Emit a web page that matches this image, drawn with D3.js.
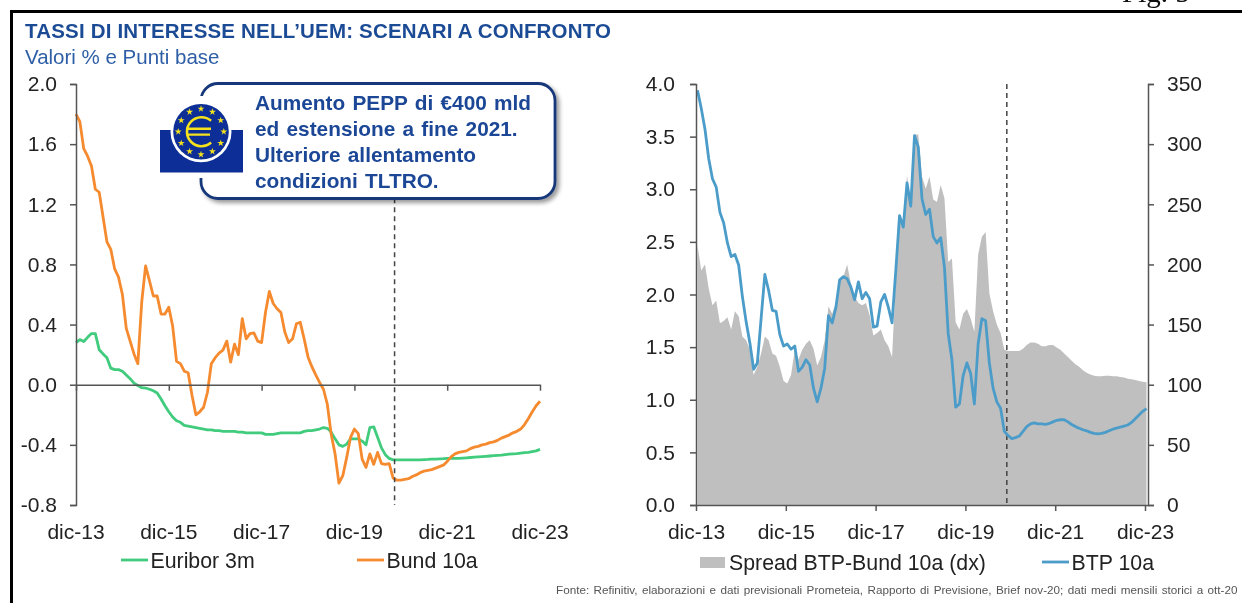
<!DOCTYPE html>
<html><head><meta charset="utf-8">
<script src="https://cdnjs.cloudflare.com/ajax/libs/d3/7.8.5/d3.min.js"></script>
<style>
html,body{margin:0;padding:0;background:#fff;overflow:hidden}
svg{display:block}
text{font-family:"Liberation Sans",Arial,sans-serif}
</style></head><body><svg id="c" width="1242" height="603"></svg>
<script>
const xTickMonths=[0,24,48,72,96,120];
const xTickLabels=["dic-13","dic-15","dic-17","dic-19","dic-21","dic-23"];
const leftTicks=[2.0,1.6,1.2,0.8,0.4,0.0,-0.4,-0.8];
const leftLabels=["2.0","1.6","1.2","0.8","0.4","0.0","-0.4","-0.8"];
const btpTicks=[4,3.5,3,2.5,2,1.5,1,0.5,0];
const btpLabels=["4.0","3.5","3.0","2.5","2.0","1.5","1.0","0.5","0.0"];
const spreadTicks=[350,300,250,200,150,100,50,0];
const forecastMonth=82;

const euribor=[0.28,0.30,0.287,0.315,0.34,0.34,0.233,0.205,0.18,0.11,0.10,0.10,0.09,0.065,0.04,0.01,-0.005,-0.02,-0.022,-0.03,
-0.04,-0.055,-0.095,-0.14,-0.18,-0.215,-0.24,-0.25,-0.27,-0.275,-0.28,-0.285,-0.29,-0.295,-0.30,-0.30,-0.305,-0.305,-0.31,-0.31,
-0.31,-0.31,-0.315,-0.315,-0.32,-0.32,-0.32,-0.32,-0.32,-0.33,-0.33,-0.33,-0.325,-0.32,-0.32,-0.32,-0.32,-0.32,-0.32,-0.31,
-0.305,-0.305,-0.30,-0.295,-0.285,-0.29,-0.315,-0.36,-0.40,-0.41,-0.395,-0.36,-0.36,-0.36,-0.375,-0.40,-0.285,-0.28,-0.35,-0.42,
-0.465,-0.49,-0.50,-0.50,-0.50,-0.50,-0.50,-0.50,-0.50,-0.50,-0.498,-0.497,-0.495,-0.495,-0.493,-0.492,-0.49,-0.49,-0.49,-0.49,
-0.488,-0.486,-0.484,-0.482,-0.48,-0.478,-0.476,-0.474,-0.472,-0.47,-0.468,-0.465,-0.462,-0.46,-0.458,-0.455,-0.452,-0.45,-0.445,-0.44,-0.43];

const bund=[1.80,1.75,1.57,1.52,1.455,1.30,1.28,1.115,0.95,0.90,0.77,0.715,0.60,0.375,0.29,0.205,0.14,0.55,0.79,0.69,
0.59,0.59,0.47,0.47,0.515,0.39,0.155,0.14,0.09,0.08,-0.07,-0.20,-0.18,-0.15,-0.05,0.14,0.18,0.21,0.23,0.29,
0.15,0.27,0.20,0.44,0.305,0.34,0.345,0.29,0.28,0.48,0.62,0.54,0.505,0.48,0.35,0.28,0.305,0.405,0.415,0.305,
0.185,0.12,0.065,0.015,-0.03,-0.13,-0.33,-0.46,-0.655,-0.605,-0.485,-0.35,-0.295,-0.325,-0.495,-0.55,-0.46,-0.53,-0.45,-0.525,
-0.53,-0.525,-0.62,-0.635,-0.635,-0.63,-0.625,-0.61,-0.60,-0.585,-0.575,-0.57,-0.565,-0.555,-0.545,-0.535,-0.51,-0.48,-0.46,-0.45,
-0.445,-0.44,-0.425,-0.415,-0.41,-0.40,-0.395,-0.385,-0.38,-0.37,-0.355,-0.345,-0.335,-0.32,-0.31,-0.295,-0.265,-0.225,-0.18,-0.14,-0.11];

const btp=[3.94,3.77,3.57,3.29,3.10,3.02,2.78,2.68,2.49,2.36,2.38,2.28,1.98,1.74,1.54,1.29,1.35,1.77,2.19,2.04,
1.85,1.84,1.62,1.51,1.53,1.48,1.51,1.27,1.31,1.38,1.33,1.11,0.98,1.11,1.30,1.80,1.73,1.88,2.14,2.17,
2.15,2.07,1.95,2.12,1.96,2.02,1.96,1.69,1.70,1.93,2.00,1.88,1.73,2.23,2.75,2.64,3.06,2.84,3.51,3.40,
2.91,2.76,2.81,2.55,2.49,2.54,2.26,1.63,1.38,0.93,0.96,1.23,1.35,1.25,0.96,1.53,1.77,1.75,1.35,1.11,
0.98,0.92,0.70,0.66,0.63,0.64,0.655,0.70,0.745,0.77,0.78,0.77,0.77,0.765,0.775,0.79,0.805,0.81,0.81,0.79,
0.765,0.745,0.73,0.715,0.705,0.69,0.68,0.675,0.68,0.69,0.705,0.72,0.73,0.74,0.75,0.76,0.785,0.82,0.855,0.89,0.915];

const spread=[216,195,200,180,166,170,151,153,156,146,161,157,140,137,129,108,115,126,140,137,
126,124,115,103,101,108,129,121,129,134,137,130,116,123,137,165,159,168,187,190,
200,184,173,168,166,168,158,141,143,146,137,132,123,187,237,234,274,249,308,308,
273,263,273,254,252,266,255,202,205,152,146,159,163,155,144,208,223,227,176,161,
150,143,129,128,128,128,128,130,133,135,135,134,132,132,133,133,131,129,126,123,
120,117,115,112,110,108.5,107.5,107,107,107.5,107.5,107,107,106.5,106,105,104.5,104,103,102.5,102];

const legendLeft=["Euribor 3m","Bund 10a"];
const legendRight=["Spread BTP-Bund 10a (dx)","BTP 10a"];
const calloutLines=["Aumento PEPP di €400 mld","ed estensione a fine 2021.","Ulteriore allentamento","condizioni TLTRO."];
const titleText="TASSI DI INTERESSE NELL’UEM: SCENARI A CONFRONTO";
const subtitleText="Valori % e Punti base";
const sourceText="Fonte: Refinitiv, elaborazioni e dati previsionali Prometeia, Rapporto di Previsione, Brief nov-20; dati medi mensili storici a ott-20";
const figText="Fig. 5";

const C={green:"#3fcb7d",orange:"#f58a2f",blue:"#4b9cc9",gray:"#bfbfbf",axis:"#555",txt:"#222",title:"#1c4c96",sub:"#2e5ea6",navy:"#17397a",logo:"#0a2f96",yel:"#f5e11e"};
const svg=d3.select("#c");
const defs=svg.append("defs");
const f=defs.append("filter").attr("id","sh").attr("x","-5%").attr("y","-5%").attr("width","115%").attr("height","115%");
f.append("feDropShadow").attr("dx",3).attr("dy",3).attr("stdDeviation",2).attr("flood-color","#000").attr("flood-opacity",.4);
const soft=defs.append("filter").attr("id","soft");
soft.append("feGaussianBlur").attr("stdDeviation",.45);

const root=svg.append("g").attr("filter","url(#soft)");

// frame
root.append("path").attr("d","M11.5 603V11.5H1242").attr("fill","none").attr("stroke","#000").attr("stroke-width",3);
root.append("text").text(figText).attr("x",1122).attr("y",2).attr("font-size",29).attr("fill","#111").style("font-family","'Liberation Serif',serif");
root.append("text").text(titleText).attr("x",25).attr("y",38).attr("font-size",20.5).attr("font-weight","bold").attr("fill",C.title).attr("textLength",586).attr("lengthAdjust","spacing");
root.append("text").text(subtitleText).attr("x",25).attr("y",63.5).attr("font-size",20.5).attr("fill",C.sub);
root.append("text").text(sourceText).attr("x",556).attr("y",594).attr("font-size",11.7).attr("fill","#555").style("word-spacing","1.2px");

const tickFont=21, legendFont=21.3;
function styleAxis(g){
  g.selectAll(".domain").attr("stroke",C.axis).attr("stroke-width",1.5);
  g.selectAll(".tick line").attr("stroke",C.axis).attr("stroke-width",1.5);
  g.selectAll("text").attr("font-size",tickFont).attr("fill",C.txt).style("font-family","'Liberation Sans',Arial,sans-serif");
}
const yTop=84,bot=505;

// LEFT PANEL
const xL=d3.scaleLinear().domain([0,120]).range([76,540]);
const yL=d3.scaleLinear().domain([-0.8,2]).range([bot,yTop]);
const lineL=d3.line().x((d,i)=>xL(i)).y(d=>yL(d));
root.append("path").datum(euribor).attr("d",lineL).attr("fill","none").attr("stroke",C.green).attr("stroke-width",2.8).attr("stroke-linejoin","round");
root.append("path").datum(bund).attr("d",lineL).attr("fill","none").attr("stroke",C.orange).attr("stroke-width",2.8).attr("stroke-linejoin","round");
root.append("line").attr("x1",xL(forecastMonth)+1.5).attr("x2",xL(forecastMonth)+1.5).attr("y1",yL(1.24)).attr("y2",yL(-0.8)).attr("stroke","#444").attr("stroke-width",1.5).attr("stroke-dasharray","5 4");
root.append("g").attr("transform","translate(76,0)").call(d3.axisLeft(yL).tickValues(leftTicks).tickFormat((d,i)=>leftLabels[i]).tickSize(6).tickSizeOuter(6).tickPadding(13)).call(styleAxis);
const axL=root.append("g").attr("transform",`translate(0,${yL(0)})`).call(d3.axisBottom(xL).tickValues(xTickMonths).tickFormat("").tickSize(6).tickSizeOuter(0));
styleAxis(axL);
root.append("g").selectAll("text").data(xTickMonths).join("text").attr("x",d=>xL(d)).attr("y",bot+33.5).attr("text-anchor","middle").attr("font-size",tickFont).attr("fill",C.txt).text((d,i)=>xTickLabels[i]);

// RIGHT PANEL
const xR=d3.scaleLinear().domain([0,120]).range([696,1145]);
const off=0.4;
const yR=d3.scaleLinear().domain([0,4]).range([bot,yTop]);
const yS=d3.scaleLinear().domain([0,350]).range([bot,yTop]);
const area=d3.area().x((d,i)=>xR(i+off)).y0(yS(0)).y1(d=>yS(d));
root.append("path").datum(spread).attr("d",area).attr("fill",C.gray);
root.append("line").attr("x1",xR(forecastMonth)+4).attr("x2",xR(forecastMonth)+4).attr("y1",yTop).attr("y2",bot).attr("stroke","#444").attr("stroke-width",1.5).attr("stroke-dasharray","5 4");
root.append("path").datum(btp).attr("d",d3.line().x((d,i)=>xR(i+off)).y(d=>yR(d))).attr("fill","none").attr("stroke",C.blue).attr("stroke-width",2.8).attr("stroke-linejoin","round");
root.append("g").attr("transform","translate(696,0)").call(d3.axisLeft(yR).tickValues(btpTicks).tickFormat((d,i)=>btpLabels[i]).tickSize(6).tickPadding(15)).call(styleAxis);
root.append("g").attr("transform","translate(1148,0)").call(d3.axisRight(yS).tickValues(spreadTicks).tickFormat(d=>d).tickSize(6).tickPadding(13)).call(styleAxis);
const xRa=d3.scaleLinear().domain([0,120.8]).range([696,1148]);
const axR=root.append("g").attr("transform",`translate(0,${bot})`).call(d3.axisBottom(xRa).tickValues(xTickMonths).tickFormat("").tickSize(6).tickSizeOuter(0));
styleAxis(axR);
root.append("g").selectAll("text").data(xTickMonths).join("text").attr("x",d=>xR(d)+0.5).attr("y",bot+33.5).attr("text-anchor","middle").attr("font-size",tickFont).attr("fill",C.txt).text((d,i)=>xTickLabels[i]);

// LEGENDS
function lineKey(x,y,w,col,label){
  root.append("line").attr("x1",x).attr("x2",x+w).attr("y1",y).attr("y2",y).attr("stroke",col).attr("stroke-width",2.8);
  root.append("text").attr("x",x+w+2.5).attr("y",y+7.5).attr("font-size",legendFont).attr("fill",C.txt).text(label);
}
lineKey(121,560,27,C.green,legendLeft[0]);
lineKey(357,560,27,C.orange,legendLeft[1]);
root.append("rect").attr("x",700).attr("y",557).attr("width",25).attr("height",11).attr("fill",C.gray);
root.append("text").attr("x",729).attr("y",569.5).attr("font-size",legendFont).attr("fill",C.txt).text(legendRight[0]);
lineKey(1042,562,27,C.blue,legendRight[1]);

// CALLOUT
root.append("rect").attr("x",201).attr("y",83.5).attr("width",354).attr("height",115).attr("rx",17).attr("fill","#fff").attr("stroke",C.navy).attr("stroke-width",2.8).attr("filter","url(#sh)");
root.append("rect").attr("x",153).attr("y",96).attr("width",97).attr("height",82).attr("fill","#fff");
root.append("g").selectAll("text").data(calloutLines).join("text").attr("x",255).attr("y",(d,i)=>110+i*26).attr("font-size",20.8).attr("font-weight","bold").attr("fill","#1a4696").style("word-spacing","1.5px").text(d=>d);

// LOGO
const logo=root.append("g");
logo.append("rect").attr("x",160).attr("y",130).attr("width",83).attr("height",42.5).attr("fill",C.logo);
logo.append("circle").attr("cx",201).attr("cy",131.7).attr("r",30.5).attr("fill","#fff");
logo.append("circle").attr("cx",201).attr("cy",131.7).attr("r",27.8).attr("fill",C.logo);
const star=d3.symbol().type(d3.symbolStar).size(15);
logo.selectAll("path.s").data(d3.range(12)).join("path").attr("class","s").attr("d",star).attr("fill",C.yel)
 .attr("transform",d=>`translate(${201+22.8*Math.cos(d*Math.PI/6)},${131.7+22.8*Math.sin(d*Math.PI/6)})`);
const arc=d3.path();arc.arc(201.5,131.7,14.5,-Math.PI*0.27,Math.PI*0.27,true);
logo.append("path").attr("d",arc.toString()).attr("fill","none").attr("stroke",C.yel).attr("stroke-width",2.6);
logo.append("path").attr("d","M186 128.8H211M186 134.6H210").attr("stroke",C.yel).attr("stroke-width",2.4).attr("fill","none");
</script></body></html>
